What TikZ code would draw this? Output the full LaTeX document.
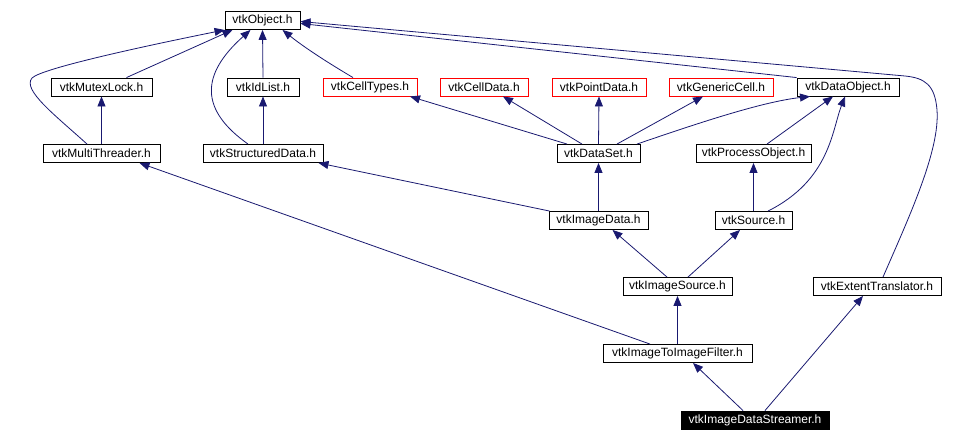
\documentclass[tikz,border=0pt]{standalone}
\usepackage{fontspec}
\setmainfont{Liberation Sans}
\usepackage{xcolor}
\usepackage{tikz}
\usetikzlibrary{arrows.meta}
\definecolor{dxedge}{RGB}{25,25,112}
\definecolor{dxred}{RGB}{255,0,0}
\tikzset{
  hbox/.style={
    draw=black, line width=0.9pt, fill=white,
    inner sep=1pt, minimum height=18pt,
    font=\fontsize{12}{14}\selectfont
  },
  undoc/.style={hbox, draw=dxred},
  cur/.style={hbox, fill=black, text=white},
  arr/.style={-{Triangle[length=10pt,width=8pt]}, draw=dxedge, line width=0.8pt}
}

\begin{document}
\begin{tikzpicture}[x=1pt, y=-1pt]
  \useasboundingbox (0,0) rectangle (977,442);
  % row 0
  \node[hbox, minimum width=75pt] (obj) at (262.5,20.5) {vtkObject.h};
  % row 1
  \node[hbox, minimum width=101pt] (mutex) at (101.5,87) {vtkMutexLock.h};
  \node[hbox, minimum width=72pt] (idlist) at (263,87) {vtkIdList.h};
  \node[undoc, minimum width=94pt] (celltypes) at (370,87) {vtkCellTypes.h};
  \node[undoc, minimum width=88pt] (celldata) at (484,87) {vtkCellData.h};
  \node[undoc, minimum width=94pt] (pointdata) at (599,87) {vtkPointData.h};
  \node[undoc, minimum width=104pt] (gencell) at (721,87) {vtkGenericCell.h};
  \node[hbox, minimum width=102pt] (dataobj) at (848,87) {vtkDataObject.h};
  % row 2
  \node[hbox, minimum width=117pt] (multi) at (101.5,153.5) {vtkMultiThreader.h};
  \node[hbox, minimum width=120pt] (structd) at (263,153.5) {vtkStructuredData.h};
  \node[hbox, minimum width=83pt] (dataset) at (598.5,153.5) {vtkDataSet.h};
  \node[hbox, minimum width=115pt] (procobj) at (753.5,153.5) {vtkProcessObject.h};
  % row 3
  \node[hbox, minimum width=99pt] (imgdata) at (598.5,220.5) {vtkImageData.h};
  \node[hbox, minimum width=77pt] (source) at (753.5,220.5) {vtkSource.h};
  % row 4
  \node[hbox, minimum width=109pt] (imgsrc) at (677.5,286.5) {vtkImageSource.h};
  \node[hbox, minimum width=128pt] (extent) at (877,286.5) {vtkExtentTranslator.h};
  % row 5
  \node[hbox, minimum width=149pt] (img2img) at (677.5,353.5) {vtkImageToImageFilter.h};
  % row 6
  \node[cur, minimum width=148pt] (streamer) at (755,420) {vtkImageDataStreamer.h};

  % edges to vtkObject.h
  \draw[arr] ([xshift=25pt]mutex.north) -- ([xshift=-30pt]obj.south);
  \draw[arr] ([xshift=-14.5pt]multi.north) .. controls (55,115) and (22,90) .. (32,78)
    .. controls (42,68) and (150,45) .. (obj.south west);
  \draw[arr] ([xshift=-15pt]structd.north) .. controls (200,110) and (200,75) .. ([xshift=-12pt]obj.south);
  \draw[arr] (idlist.north) -- (obj.south);
  \draw[arr] ([xshift=-17pt]celltypes.north) .. controls (330,64) and (305,48) .. ([xshift=20pt]obj.south);
  \draw[arr] (dataobj.north west) -- ([yshift=-3pt]obj.east);
  \draw[arr] ([xshift=6pt]extent.north) .. controls (910,215) and (940,150) .. (937,110)
    .. controls (935,85) and (925,78) .. (905,76) -- ([yshift=-1pt]obj.east);
  % row 1 parents
  \draw[arr] (multi.north) -- (mutex.south);
  \draw[arr] (structd.north) -- (idlist.south);
  \draw[arr] ([xshift=-31.5pt]dataset.north) -- ([xshift=40pt]celltypes.south);
  \draw[arr] ([xshift=-16.5pt]dataset.north) -- ([xshift=19pt]celldata.south);
  \draw[arr] (dataset.north) -- (pointdata.south);
  \draw[arr] ([xshift=18.5pt]dataset.north) -- ([xshift=-18pt]gencell.south);
  \draw[arr] ([xshift=38.5pt]dataset.north) .. controls (690,126) and (760,102) .. ([xshift=-38pt]dataobj.south);
  \draw[arr] ([xshift=13.5pt]procobj.north) -- ([xshift=-15pt]dataobj.south);
  \draw[arr] ([xshift=14.5pt]source.north) .. controls (830,180) and (832,130) .. ([xshift=-3pt]dataobj.south);
  % row 2 parents
  \draw[arr] (source.north) -- (procobj.south);
  \draw[arr] (imgdata.north) -- (dataset.south);
  \draw[arr] ([xshift=1pt]imgdata.north west) -- ([xshift=-5pt]structd.south east);
  \draw[arr] ([xshift=-27.5pt]img2img.north) -- ([xshift=38pt]multi.south);
  % lower rows
  \draw[arr] ([xshift=-10.5pt]imgsrc.north) -- ([xshift=14pt]imgdata.south);
  \draw[arr] ([xshift=10.5pt]imgsrc.north) -- ([xshift=-13.5pt]source.south);
  \draw[arr] (img2img.north) -- (imgsrc.south);
  \draw[arr] ([xshift=-12pt]streamer.north) -- ([xshift=15.5pt]img2img.south);
  \draw[arr] ([xshift=10pt]streamer.north) -- ([xshift=-14pt]extent.south);
\end{tikzpicture}
\end{document}
